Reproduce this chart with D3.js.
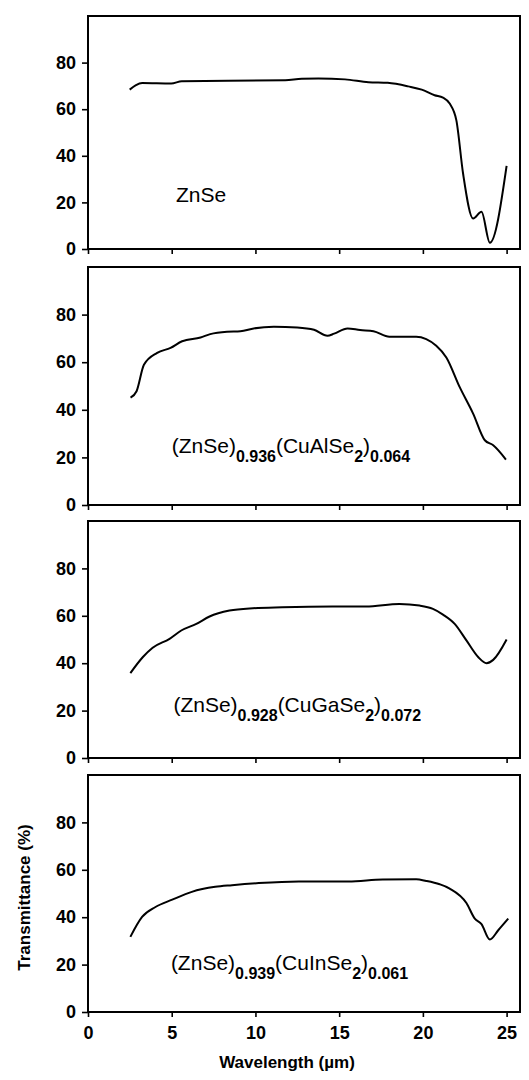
<!DOCTYPE html>
<html>
<head>
<meta charset="utf-8">
<script src="https://cdn.jsdelivr.net/npm/d3@7"></script>
<style>
    body { margin: 0; background: #fff; }
    svg { display: block; font-family: "Liberation Sans", Arial, sans-serif; }
</style>
</head>
<body>
<svg id="chart" width="529" height="1080"></svg>
<script>
// wavelength (um) / transmittance (%)
var znseX = [2.49, 2.84, 3.24, 4.97, 5.6, 11.78, 12.77, 13.76, 15.35, 16.75, 17.9, 19.13, 19.93, 20.7, 21.2, 21.6, 22.0, 22.4, 23.0, 23.5, 24.0, 25.0],
    znseY = [68.4, 70.2, 71.2, 71, 72, 72.4, 73.1, 73.2, 72.8, 71.6, 71.3, 69.8, 68.4, 66, 65, 62.4, 55.2, 32.4, 13.1, 16, 2.7, 35.7];

var alX = [2.54, 2.9, 3.34, 4.13, 4.93, 5.62, 6.72, 7.3, 8.3, 9.1, 9.9, 11.1, 12.5, 13.5, 14.3, 14.7, 15.5, 16.25, 17.05, 18.0, 19.6, 20.2, 20.8, 21.4, 22.2, 23.0, 23.7, 24.2, 24.96],
    alY = [45.1, 47.8, 58.9, 63.9, 66, 68.8, 70.4, 71.8, 72.8, 73, 74.2, 74.9, 74.6, 73.6, 71.1, 72, 74.2, 73.5, 73, 70.7, 70.7, 69.7, 66.9, 62, 49.5, 38.4, 27.2, 25.1, 19.1];

var gaX = [2.53, 3.28, 3.86, 4.87, 5.57, 6.47, 7.26, 8.45, 9.85, 11.6, 14.6, 16.6, 18.6, 19.8, 20.6, 21.2, 21.9, 22.6, 23.3, 23.8, 24.2, 25.0],
    gaY = [35.8, 42.6, 46.5, 50.3, 53.8, 56.6, 59.7, 62.2, 63.2, 63.6, 63.9, 63.9, 65, 64.3, 62.9, 60.5, 56.6, 49.6, 42.6, 40, 41.4, 50];

var inX = [2.53, 3.23, 4.03, 5.03, 6.2, 7.6, 8.6, 10.2, 12.6, 15.55, 17.6, 19.6, 20.2, 21.0, 21.6, 22.6, 23.1, 23.5, 24.0, 24.5, 25.1],
    inY = [31.7, 40.1, 44.3, 47.4, 50.7, 52.8, 53.5, 54.4, 55.1, 55.1, 55.9, 56, 55.3, 53.9, 52.1, 46, 39.4, 37.1, 30.6, 34.5, 39.4];

var xTicks = [0, 5, 10, 15, 20, 25],
    yTicks = [0, 20, 40, 60, 80];

// sample labels: [text, isSubscript]
var labels = [
    [["ZnSe", 0]],
    [["(ZnSe)", 0], ["0.936", 1], ["(CuAlSe", 0], ["2", 1], [")", 0], ["0.064", 1]],
    [["(ZnSe)", 0], ["0.928", 1], ["(CuGaSe", 0], ["2", 1], [")", 0], ["0.072", 1]],
    [["(ZnSe)", 0], ["0.939", 1], ["(CuInSe", 0], ["2", 1], [")", 0], ["0.061", 1]]
];

var series = [[znseX, znseY], [alX, alY], [gaX, gaY], [inX, inY]];

// layout
var panelTop = [16, 267, 521, 775],
    panelBottom = [249, 505, 758, 1012],
    labelPos = [[5.25, 20], [5.0, 21.8], [5.1, 19.3], [4.95, 17.7]],
    left = 88,
    right = 520;

var svg = d3.select("#chart"),
    x = d3.scaleLinear().domain([0, 25.8]).range([left, right]);

var _panel = function _panel(i) {
    var y = d3.scaleLinear().domain([0, 100]).range([panelBottom[i], panelTop[i]]),
        g = svg.append("g").attr("class", "panel"),
        pts = d3.zip(series[i][0], series[i][1]);

    var yAxis = g.append("g")
        .attr("transform", "translate(" + left + ",0)")
        .call(d3.axisLeft(y).tickValues(yTicks).tickSize(6).tickPadding(6));

    var xAxis = g.append("g")
        .attr("transform", "translate(0," + panelBottom[i] + ")")
        .call(d3.axisBottom(x).tickValues(xTicks).tickSize(5).tickPadding(9));

    yAxis.select(".domain").remove();
    xAxis.select(".domain").remove();
    g.selectAll(".tick line").attr("stroke", "#000").attr("stroke-width", 1.6);
    g.selectAll(".tick text")
        .attr("fill", "#000")
        .style("font-size", "18px")
        .style("font-weight", "bold");

    if (i < 3) {
        xAxis.selectAll(".tick text").remove();
    }

    g.append("rect")
        .attr("x", left)
        .attr("y", panelTop[i])
        .attr("width", right - left)
        .attr("height", panelBottom[i] - panelTop[i])
        .attr("fill", "none")
        .attr("stroke", "#000")
        .attr("stroke-width", 2);

    var line = d3.line()
        .x(function(d) { return x(d[0]); })
        .y(function(d) { return y(d[1]); })
        .curve(d3.curveMonotoneX);

    g.append("path")
        .datum(pts)
        .attr("fill", "none")
        .attr("stroke", "#000")
        .attr("stroke-width", 2)
        .attr("stroke-linejoin", "round")
        .attr("d", line);

    var t = g.append("text")
        .attr("x", x(labelPos[i][0]))
        .attr("y", y(labelPos[i][1]))
        .attr("fill", "#000");

    var sub = 0;
    labels[i].forEach(function(p) {
        var dy = 0;
        if (p[1] && !sub) { dy = 9; }
        if (!p[1] && sub) { dy = -9; }
        sub = p[1];
        t.append("tspan")
            .attr("dy", dy)
            .style("font-size", p[1] ? "16px" : "21px")
            .style("font-weight", p[1] ? "bold" : "normal")
            .text(p[0]);
    });
};

for (var i = 0; i < 4; i++) {
    _panel(i);
}

svg.append("text")
    .attr("x", 287)
    .attr("y", 1068)
    .attr("text-anchor", "middle")
    .style("font-size", "17px")
    .style("font-weight", "bold")
    .text("Wavelength (\u00b5m)");

svg.append("text")
    .attr("transform", "translate(30," + ((panelTop[3] + panelBottom[3]) / 2 + 4) + ") rotate(-90)")
    .attr("text-anchor", "middle")
    .style("font-size", "17px")
    .style("font-weight", "bold")
    .text("Transmittance (%)");
</script>
</body>
</html>
